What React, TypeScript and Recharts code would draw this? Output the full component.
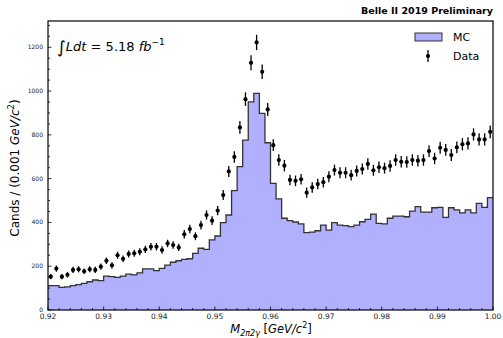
import { ComposedChart, Area, Scatter, ErrorBar, XAxis, YAxis } from "recharts";

// histogram binning: 80 bins of 0.001 GeV/c^2 from 0.92 to 1.00
const BIN_START = 0.92;
const BIN_WIDTH = 0.001;

// MC expectation per bin
const mcCounts = [
  111, 111, 103, 106, 111, 116, 122, 129, 137, 134,
  155, 152, 149, 155, 164, 160, 170, 188, 188, 180,
  190, 205, 218, 225, 231, 234, 259, 282, 277, 320,
  338, 399, 434, 545, 655, 776, 951, 989, 898, 764,
  578, 508, 419, 408, 402, 393, 353, 356, 362, 388,
  365, 399, 388, 385, 381, 388, 403, 414, 438, 396,
  393, 419, 429, 429, 426, 452, 472, 447, 447, 467,
  469, 423, 467, 457, 444, 457, 444, 487, 469, 513,
];

// observed data per bin
const dataCounts = [
  152, 189, 152, 161, 183, 186, 177, 186, 183, 198,
  225, 204, 250, 234, 256, 259, 266, 277, 289, 289,
  274, 304, 297, 286, 346, 370, 337, 388, 434, 408,
  454, 525, 633, 699, 834, 963, 1129, 1222, 1088, 916,
  753, 685, 659, 594, 590, 597, 536, 560, 575, 584,
  609, 639, 627, 627, 616, 635, 644, 667, 638, 652,
  648, 658, 685, 677, 676, 685, 682, 685, 726, 692,
  741, 731, 708, 743, 757, 761, 802, 779, 779, 814,
];

// error bar half-lengths on data
const dataErrors = [
  12, 14, 12, 13, 14, 14, 13, 14, 14, 14,
  15, 14, 16, 15, 16, 16, 16, 17, 17, 17,
  17, 17, 17, 17, 19, 19, 18, 20, 21, 20,
  21, 23, 25, 26, 29, 31, 34, 35, 33, 30,
  27, 26, 26, 24, 24, 24, 23, 24, 24, 24,
  25, 25, 25, 25, 25, 25, 25, 26, 25, 26,
  25, 26, 26, 26, 26, 26, 26, 26, 27, 26,
  27, 27, 27, 27, 28, 28, 28, 28, 28, 29,
];

const xTickLabels = ["0.92", "0.93", "0.94", "0.95", "0.96", "0.97", "0.98", "0.99", "1.00"];
const yTickLabels = ["0", "200", "400", "600", "800", "1000", "1200"];

const Y_MAX = 1320;

// layout of the axes box
const W = 503;
const H = 338;
const PLOT_LEFT = 48;
const PLOT_TOP = 21;
const PLOT_RIGHT = 10;
const PLOT_BOTTOM = 28;

const r4 = (v: number) => Math.round(v * 10000) / 10000;

const histData = mcCounts
  .map((v, i) => ({ x: r4(BIN_START + i * BIN_WIDTH), mc: v }))
  .concat([{ x: r4(BIN_START + mcCounts.length * BIN_WIDTH), mc: mcCounts[mcCounts.length - 1] }]);

const pointData = dataCounts.map((v, i) => ({
  x: r4(BIN_START + (i + 0.5) * BIN_WIDTH),
  y: v,
  err: dataErrors[i],
}));

// major every 0.01, minor every 0.002
const xTicks: number[] = [];
for (let k = 920; k <= 1000; k += 2) xTicks.push(k / 1000);
const yTicks: number[] = [];
for (let v = 0; v <= 1300; v += 50) yTicks.push(v);

const FONT = "'DejaVu Sans', sans-serif";

function XTick(props: any) {
  const { x, y, payload } = props;
  const k = Math.round(payload.value * 1000);
  const major = k % 10 === 0;
  return (
    <g>
      <line x1={x} x2={x} y1={y} y2={y - (major ? 3.5 : 2)} stroke="#000" strokeWidth={0.8} />
      {major && (
        <text x={x} y={y + 9} textAnchor="middle" fontSize={7.5} fontFamily={FONT} fill="#222">
          {xTickLabels[(k - 920) / 10]}
        </text>
      )}
    </g>
  );
}

function YTick(props: any) {
  const { x, y, payload } = props;
  const v = payload.value;
  const major = v % 200 === 0;
  return (
    <g>
      <line x1={x} x2={x + (major ? 3.5 : 2)} y1={y} y2={y} stroke="#000" strokeWidth={0.8} />
      {major && (
        <text x={x - 5} y={y + 2} textAnchor="end" fontSize={6} fontFamily={FONT} fill="#222">
          {yTickLabels[v / 200]}
        </text>
      )}
    </g>
  );
}

const DataDot = (props: any) => <circle cx={props.cx} cy={props.cy} r={2.1} fill="#000" />;

export default function App() {
  return (
    <div style={{ position: "absolute", left: 0, top: 0, width: W, height: H, background: "#fff" }}>
      <ComposedChart
        width={W}
        height={H}
        data={histData}
        margin={{ top: PLOT_TOP, right: PLOT_RIGHT, bottom: 0, left: 0 }}
      >
        <XAxis
          type="number"
          dataKey="x"
          domain={[0.92, 1.0]}
          ticks={xTicks}
          interval={0}
          tick={<XTick />}
          tickLine={false}
          axisLine={false}
          tickSize={0}
          tickMargin={0}
          height={PLOT_BOTTOM}
          allowDataOverflow
        />
        <YAxis
          type="number"
          domain={[0, Y_MAX]}
          ticks={yTicks}
          interval={0}
          tick={<YTick />}
          tickLine={false}
          axisLine={false}
          tickSize={0}
          tickMargin={0}
          width={PLOT_LEFT}
          allowDataOverflow
        />
        <Area
          type="stepAfter"
          dataKey="mc"
          fill="#b0b0ff"
          fillOpacity={1}
          stroke="#333"
          strokeWidth={1.3}
          isAnimationActive={false}
        />
        <Scatter data={pointData} dataKey="y" shape={DataDot} isAnimationActive={false}>
          <ErrorBar dataKey="err" direction="y" width={0} stroke="#000" strokeWidth={1.3} />
        </Scatter>
      </ComposedChart>

      <svg
        width={W}
        height={H}
        style={{ position: "absolute", left: 0, top: 0, pointerEvents: "none" }}
        fontFamily={FONT}
      >
        {/* axes frame */}
        <rect
          x={PLOT_LEFT}
          y={PLOT_TOP}
          width={W - PLOT_LEFT - PLOT_RIGHT}
          height={H - PLOT_TOP - PLOT_BOTTOM}
          fill="none"
          stroke="#000"
          strokeWidth={1.2}
        />

        <text x={493} y={14} textAnchor="end" fontSize={9.5} fontWeight="bold" fill="#000">
          Belle II 2019 Preliminary
        </text>

        <text x={57} y={51} fontSize={13} fill="#000">
          <tspan fontSize={17} dy={2}>∫</tspan>
          <tspan fontStyle="italic" dy={-2}>Ldt</tspan>
          <tspan> = 5.18 </tspan>
          <tspan fontStyle="italic">fb</tspan>
          <tspan fontSize={9} dy={-6}>−1</tspan>
        </text>

        {/* legend */}
        <rect x={415} y={33} width={27} height={8} fill="#b0b0ff" stroke="#333" strokeWidth={1} />
        <text x={453} y={41} fontSize={11} fill="#000">MC</text>
        <line x1={428} x2={428} y1={50} y2={62} stroke="#000" strokeWidth={1.3} />
        <circle cx={428} cy={56} r={2.1} fill="#000" />
        <text x={453} y={60} fontSize={11} fill="#000">Data</text>

        {/* axis titles */}
        <text x={271} y={333} textAnchor="middle" fontSize={11.5} fill="#000">
          <tspan fontStyle="italic">M</tspan>
          <tspan fontStyle="italic" fontSize={8} dy={3}>2π2γ</tspan>
          <tspan dy={-3}> [</tspan>
          <tspan fontStyle="italic">GeV/c</tspan>
          <tspan fontSize={8} dy={-5}>2</tspan>
          <tspan dy={5}>]</tspan>
        </text>
        <text
          transform="translate(19,168) rotate(-90)"
          textAnchor="middle"
          fontSize={12}
          fill="#000"
        >
          <tspan>Cands / (0.001 </tspan>
          <tspan fontStyle="italic">GeV/c</tspan>
          <tspan fontSize={8.5} dy={-5}>2</tspan>
          <tspan dy={5}>)</tspan>
        </text>
      </svg>
    </div>
  );
}
